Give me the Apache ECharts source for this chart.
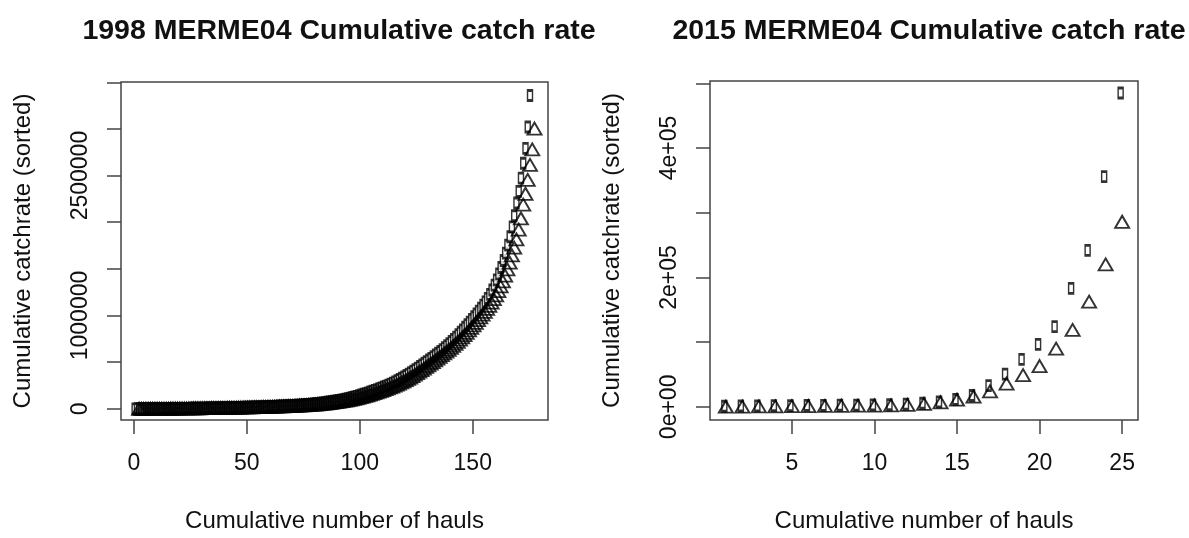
<!DOCTYPE html>
<html>
<head>
<meta charset="utf-8">
<script src="https://cdn.jsdelivr.net/npm/echarts@6/dist/echarts.min.js"></script>
<style>
  html, body { margin: 0; padding: 0; background: #fff; }
  #chart { width: 1189px; height: 538px; }
</style>
</head>
<body>
<div id="chart"></div>
<script>
// Cumulative catch rate (sorted) per haul, 1998 survey: squares and triangles
const rect1998 = [
  120, 250, 390, 530, 690, 850, 1020, 1200, 1380, 1570, 1770, 1980, 2190, 2410, 2640,
  2880, 3120, 3370, 3630, 3900, 4180, 4470, 4770, 5080, 5400, 5730, 6070, 6420, 6780, 7150,
  7540, 7940, 8340, 8750, 9170, 9590, 10020, 10460, 10900, 11350, 11810, 12280, 12760, 13250, 13750,
  14270, 14810, 15370, 15950, 16550, 17170, 17810, 18480, 19180, 19900, 20650, 21430, 22240, 23080, 23950,
  24850, 25790, 26770, 27780, 28830, 29920, 31050, 32220, 33430, 34690, 36000, 37360, 38770, 40230, 41750,
  43350, 45150, 47150, 49350, 51750, 54350, 57150,
  60150, 63250, 66450, 69850, 73350, 77050, 80850, 84850,
  89150, 93750, 98650, 103850, 109350, 115150, 121250,
  127550, 134150, 141050, 148250, 155750, 163550, 171650,
  179950, 188450, 197150, 206050, 215150, 224450, 233950, 243650,
  253850, 264650, 276050, 288050, 300650, 313850, 327650,
  341950, 356750, 371950, 387550, 403550, 419950, 436750,
  453750, 470750, 487950, 505350, 522950, 540750, 558750, 576950,
  595450, 614650, 634550, 655150, 676450, 698450,
  721250, 744850, 769250, 794450, 820450,
  846950, 873950, 901450, 929450, 957950, 986950,
  1016450, 1046950, 1078450, 1111450, 1146450, 1184450, 1226450, 1273450, 1325450,
  1382450, 1445450, 1514450, 1589450, 1669450, 1754450, 1844450, 1949450, 2069450,
  2206000, 2330000, 2472000, 2632000, 2791000, 3021000, 3358000
];
const tri1998 = [
  0, 110, 240, 380, 520, 670, 830, 1000, 1170, 1350, 1540, 1730, 1940, 2150, 2370,
  2590, 2830, 3070, 3310, 3570, 3840, 4110, 4400, 4700, 5000, 5320, 5640, 5980, 6320, 6680,
  7040, 7420, 7810, 8210, 8610, 9020, 9440, 9860, 10290, 10730, 11170, 11630, 12090, 12570, 13050,
  13540, 14060, 14590, 15140, 15710, 16300, 16910, 17540, 18200, 18880, 19590, 20320, 21080, 21870, 22700,
  23550, 24440, 25350, 26300, 27280, 28300, 29360, 30460, 31600, 32780, 34020, 35300, 36630, 38010, 39450,
  40940, 42480, 44200, 46100, 48200, 50500, 53000, 55700, 58600, 61600, 64700, 68000, 71400, 75000, 78700,
  82600, 86800, 91200, 96000, 101000, 106300, 112000, 117900, 124100, 130600, 137400, 144500, 151900, 159500, 167400,
  175600, 184000, 192600, 201400, 210400, 219600, 229000, 238600, 248600, 259200, 270400, 282200, 294600, 307600, 321200,
  335400, 350200, 365500, 381300, 397500, 414100, 431000, 448300, 465800, 483500, 501400, 519500, 537800, 556300, 575000,
  593700, 612900, 632500, 653000, 674000, 695600, 717800, 740700, 764400, 788800, 814000, 840000, 866700, 894000, 922000,
  950500, 979600, 1009300, 1039600, 1070600, 1103000, 1137500, 1174700, 1215600, 1261000, 1311500, 1367000, 1428000, 1494500, 1567000,
  1645000, 1728000, 1815000, 1920000, 2040000, 2188000, 2305000, 2454000, 2614000, 2781000, 3004000
];

// 2015 survey
const rect2015 = [900, 1300, 1600, 1800, 2000, 2200, 2400, 2600, 2800, 3000, 3300, 4200, 5600,
  7700, 11700, 17500, 32800, 50500, 73500, 96500, 124000, 183000, 241700, 355800, 485000];
const tri2015 = [200, 400, 600, 800, 1000, 1200, 1400, 1600, 1800, 2000, 2300, 3000, 4500,
  7000, 11000, 16000, 24000, 36000, 49000, 63000, 90000, 119000, 162600, 220000, 286000];

// Tick positions and labelled ticks
const xTicks1998 = [0, 50, 100, 150];
const yTicks1998 = [0, 500000, 1000000, 1500000, 2000000, 2500000, 3000000, 3500000];
const yLabels1998 = [0, 1000000, 2500000];
const xTicks2015 = [5, 10, 15, 20, 25];
const yTicks2015 = [0, 100000, 200000, 300000, 400000, 500000];
const yLabels2015 = [0, 200000, 400000];

const titles = ['1998 MERME04 Cumulative catch rate', '2015 MERME04 Cumulative catch rate'];
const xName = 'Cumulative number of hauls';
const yName = 'Cumulative catchrate (sorted)';

const pairs = arr => arr.map((v, i) => [i + 1, v]);

// R-style scientific notation, e.g. 2e+05
function sci(v) {
  if (v === 0) return '0e+00';
  const e = Math.floor(Math.log10(Math.abs(v)));
  const m = +(v / Math.pow(10, e)).toFixed(6);
  return m + 'e' + (e >= 0 ? '+' : '-') + String(Math.abs(e)).padStart(2, '0');
}

const FONT = '"Liberation Sans", Arial, Helvetica, sans-serif';
const INK = '#111';
const FRAME = '#444';

function xAxisCfg(gridIndex, min, max, ticks) {
  return {
    type: 'value', gridIndex, min, max,
    name: xName, nameLocation: 'middle', nameGap: 89,
    nameTextStyle: { fontFamily: FONT, fontSize: 24, color: INK },
    axisLine: { show: false, onZero: false },
    axisTick: { show: true, inside: false, length: 14, customValues: ticks,
      lineStyle: { color: FRAME, width: 1.5 } },
    axisLabel: { show: true, customValues: ticks, margin: 32, hideOverlap: false,
      fontFamily: FONT, fontSize: 23, color: INK },
    splitLine: { show: false }
  };
}

function yAxisCfg(gridIndex, min, max, ticks, labels, fmt) {
  return {
    type: 'value', gridIndex, min, max,
    name: yName, nameLocation: 'middle', nameGap: 86, nameRotate: 90,
    nameTextStyle: { fontFamily: FONT, fontSize: 24, color: INK },
    axisLine: { show: false, onZero: false },
    axisTick: { show: true, inside: false, length: 14, customValues: ticks,
      lineStyle: { color: FRAME, width: 1.5 } },
    axisLabel: { show: true, customValues: labels, rotate: 90, margin: 29, hideOverlap: false,
      fontFamily: FONT, fontSize: 23, color: INK, formatter: fmt },
    splitLine: { show: false }
  };
}

function squares(xi, data, dx) {
  return {
    type: 'scatter', xAxisIndex: xi, yAxisIndex: xi, data,
    symbol: 'rect', symbolSize: [5, 10], symbolOffset: [dx, 0],
    itemStyle: { color: '#fff', borderColor: '#000', borderWidth: 2 },
    silent: true
  };
}
function triangles(xi, data, dx) {
  return {
    type: 'scatter', xAxisIndex: xi, yAxisIndex: xi, data,
    symbol: 'triangle', symbolSize: [14, 12], symbolOffset: [dx, 0],
    itemStyle: { color: 'rgba(0,0,0,0)', borderColor: '#000', borderWidth: 1.9 },
    silent: true
  };
}

const chart = echarts.init(document.getElementById('chart'), null, { renderer: 'canvas' });
chart.setOption({
  backgroundColor: '#fff',
  animation: false,
  title: [
    { text: titles[0], left: 334, top: 12, textAlign: 'center',
      textStyle: { fontFamily: FONT, fontSize: 28.5, fontWeight: 'bold', color: INK } },
    { text: titles[1], left: 924, top: 12, textAlign: 'center',
      textStyle: { fontFamily: FONT, fontSize: 28.5, fontWeight: 'bold', color: INK } }
  ],
  grid: [
    { left: 121, top: 82, width: 427, height: 340, show: true,
      borderColor: FRAME, borderWidth: 1.5, backgroundColor: 'transparent' },
    { left: 710, top: 81, width: 428, height: 341, show: true,
      borderColor: FRAME, borderWidth: 1.5, backgroundColor: 'transparent' }
  ],
  xAxis: [
    xAxisCfg(0, -5.7, 183.3, xTicks1998),
    xAxisCfg(1, 0.04, 25.96, xTicks2015)
  ],
  yAxis: [
    yAxisCfg(0, -120000, 3503000, yTicks1998, yLabels1998, v => String(v)),
    yAxisCfg(1, -20300, 503500, yTicks2015, yLabels2015, sci)
  ],
  series: [
    squares(0, pairs(rect1998), -1.5),
    triangles(0, pairs(tri1998), 3),
    squares(1, pairs(rect2015), -1.5),
    triangles(1, pairs(tri2015), 0)
  ]
});
</script>
</body>
</html>
